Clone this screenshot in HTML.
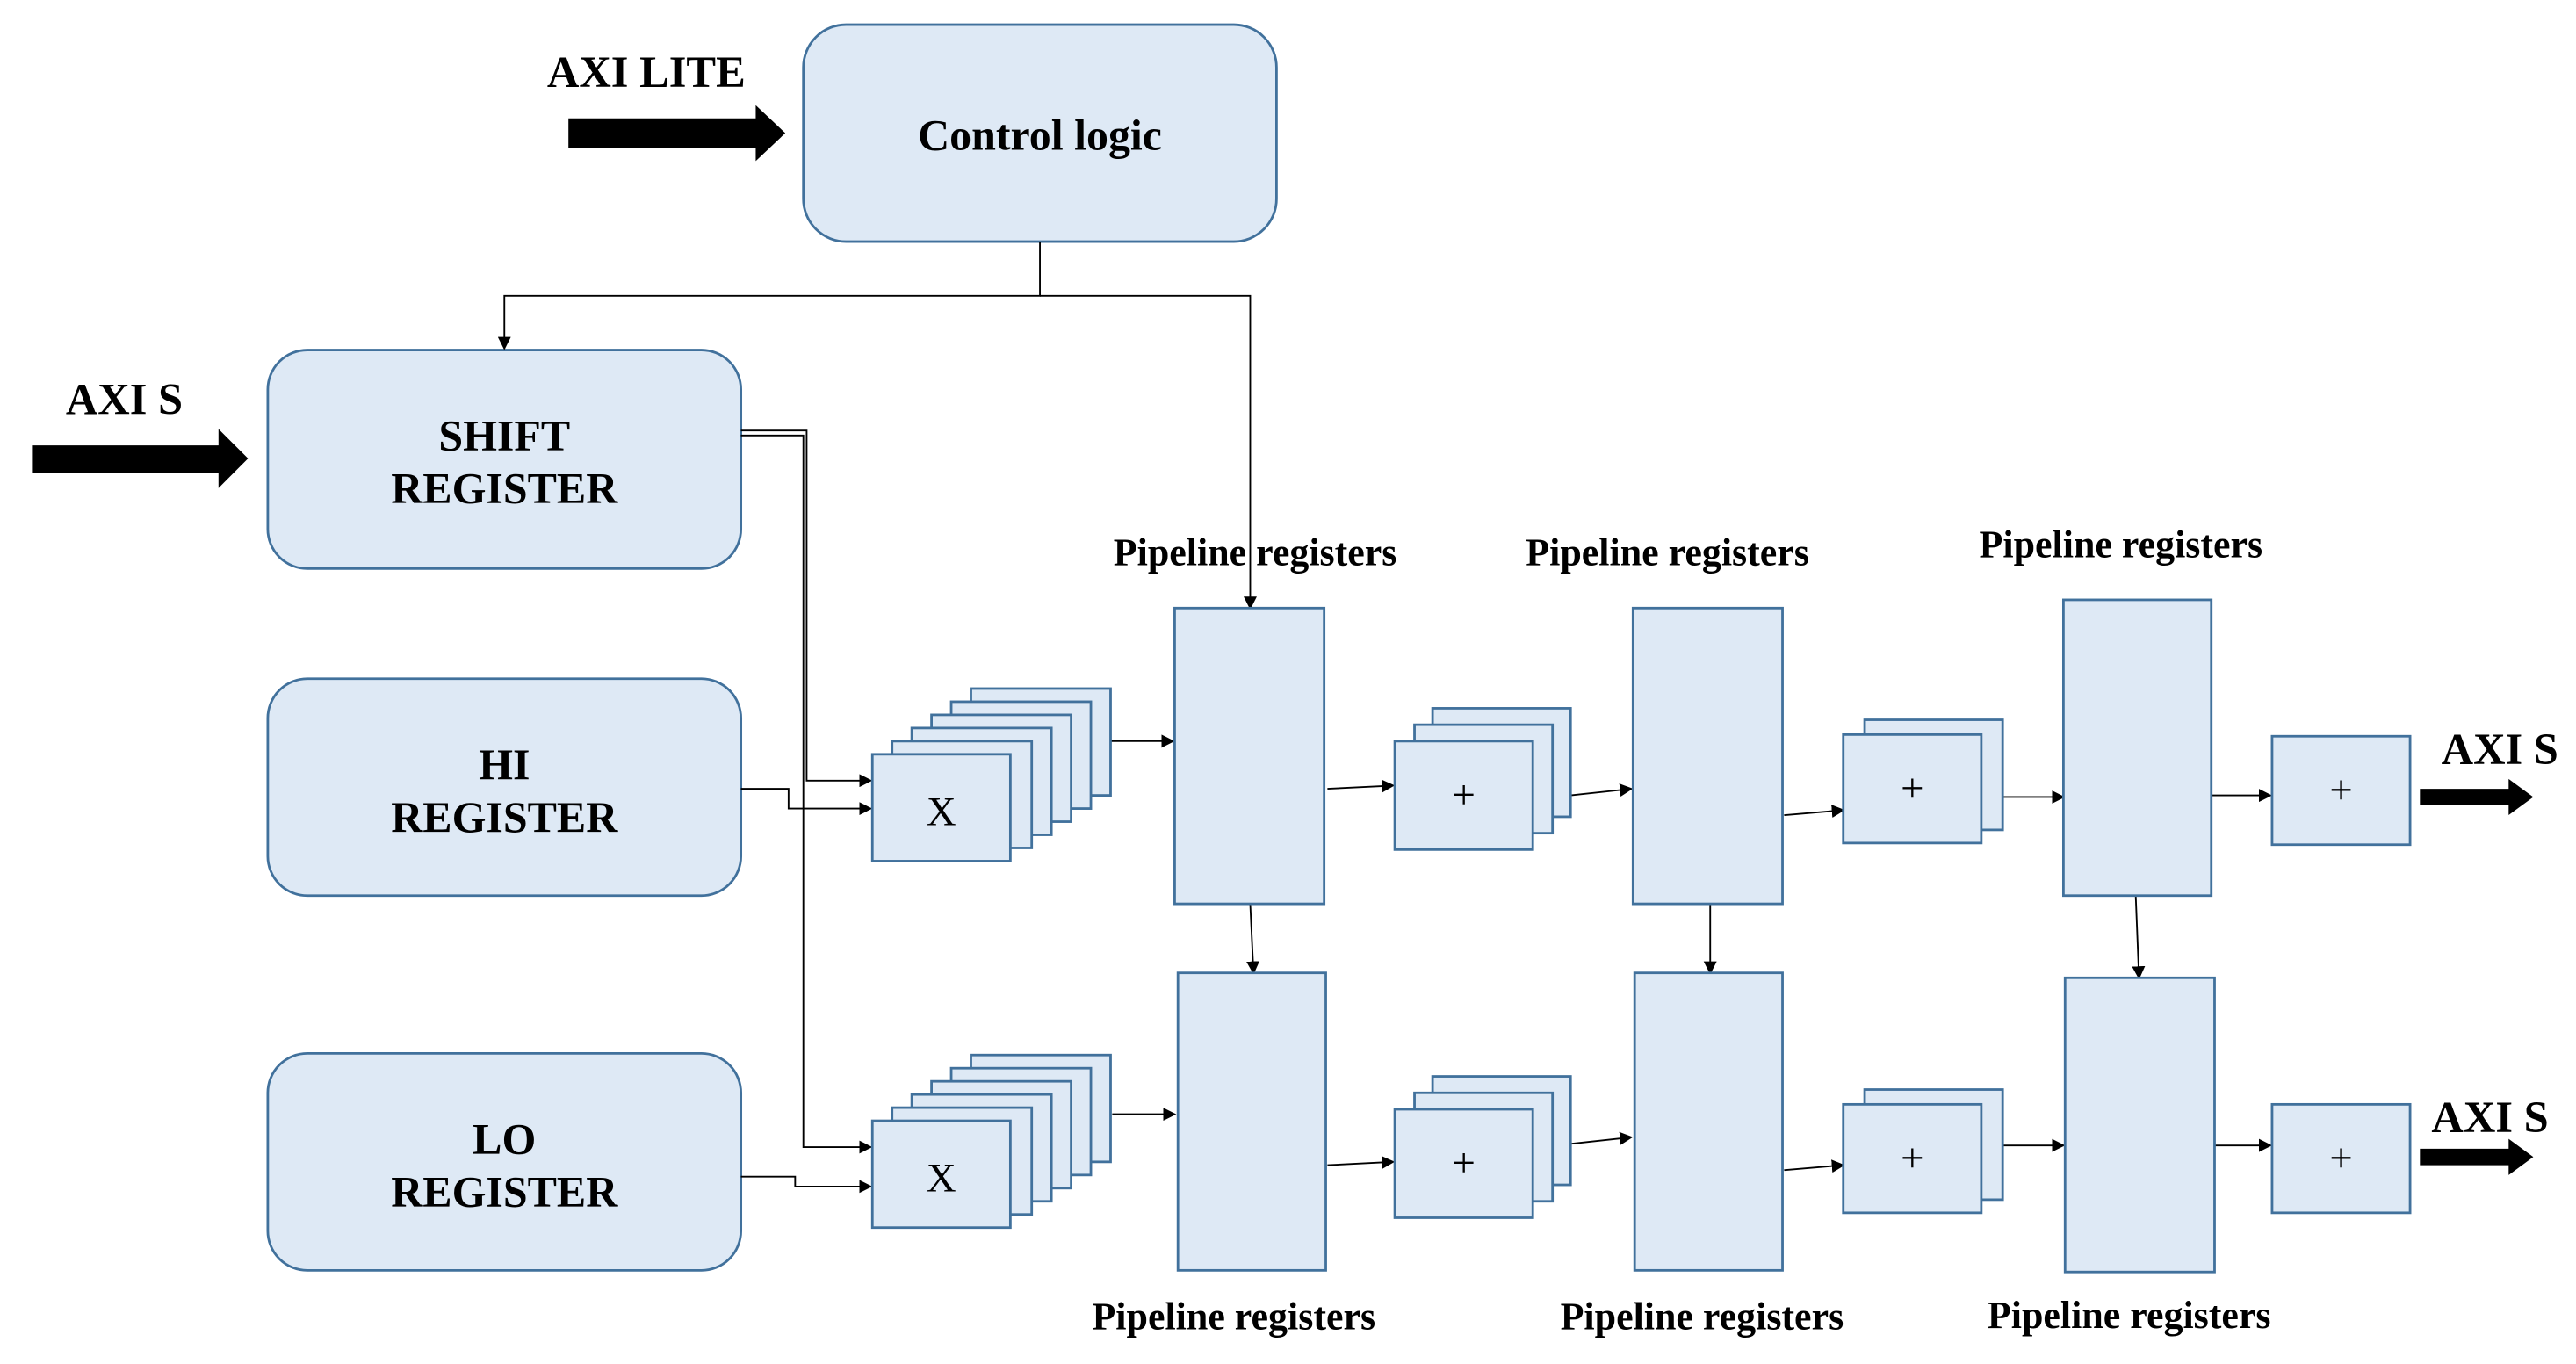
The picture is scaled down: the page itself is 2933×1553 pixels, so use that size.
<!DOCTYPE html>
<html><head><meta charset="utf-8"><style>html,body{margin:0;padding:0;background:#fff}svg{display:block}</style></head>
<body>
<svg width="2933" height="1553" viewBox="0 0 1568 830" preserveAspectRatio="none" xmlns="http://www.w3.org/2000/svg" font-family="Liberation Serif, serif">
<defs>
<marker id="a" markerWidth="8" markerHeight="8" refX="7" refY="4" orient="auto" markerUnits="userSpaceOnUse"><path d="M0,0 L8,4 L0,8 z" fill="#000"/></marker>
</defs>
<g fill="#dee9f5" stroke="#41719c" stroke-width="1.5">
<rect x="489" y="15" width="288" height="132" rx="26"/>
<rect x="163" y="213" width="288" height="133" rx="24"/>
<rect x="163" y="413" width="288" height="132" rx="24"/>
<rect x="163" y="641" width="288" height="132" rx="24"/>
</g>
<g font-weight="bold" text-anchor="middle" font-size="26.7">
<text x="633" y="91">Control logic</text>
<text x="307" y="274">SHIFT</text><text x="307" y="306">REGISTER</text>
<text x="307" y="474">HI</text><text x="307" y="506">REGISTER</text>
<text x="307" y="702">LO</text><text x="307" y="734">REGISTER</text>
</g>
<g font-weight="bold" font-size="27">
<text x="333" y="53">AXI LITE</text>
<text x="40" y="252">AXI S</text>
<text x="1486" y="465">AXI S</text>
<text x="1480" y="689">AXI S</text>
</g>
<g fill="#000">
<path d="M346,72 H460 V64 L478,81 L460,98 V90 H346 z"/>
<path d="M20,271 H133 V261 L151,279 L133,297 V288 H20 z"/>
<path d="M1473,480 H1527 V474 L1542,485 L1527,496 V490 H1473 z"/>
<path d="M1473,699 H1527 V693 L1542,704 L1527,715 V709 H1473 z"/>
</g>
<g fill="none" stroke="#000" stroke-width="1">
<path d="M633,147 V180 H307 V212" marker-end="url(#a)"/>
<path d="M633,180 H761 V370" marker-end="url(#a)"/>
<path d="M451,262 H491 V475 H530" marker-end="url(#a)"/>
<path d="M451,265 H489 V698 H530" marker-end="url(#a)"/>
<path d="M451,480 H480 V492 H530" marker-end="url(#a)"/>
<path d="M451,716 H484 V722 H530" marker-end="url(#a)"/>
<path d="M676,451 H714" marker-end="url(#a)"/>
<path d="M677,678 H715" marker-end="url(#a)"/>
<path d="M761,550 L763,592" marker-end="url(#a)"/>
<path d="M1041,550 V592" marker-end="url(#a)"/>
<path d="M1300,545 L1302,595" marker-end="url(#a)"/>
<path d="M808,480 L848,478" marker-end="url(#a)"/>
<path d="M808,709 L848,707" marker-end="url(#a)"/>
<path d="M956,484 L993,480" marker-end="url(#a)"/>
<path d="M956,696 L993,692" marker-end="url(#a)"/>
<path d="M1086,496 L1122,493" marker-end="url(#a)"/>
<path d="M1086,712 L1122,709" marker-end="url(#a)"/>
<path d="M1219,485 H1256" marker-end="url(#a)"/>
<path d="M1219,697 H1256" marker-end="url(#a)"/>
<path d="M1346,484 H1382" marker-end="url(#a)"/>
<path d="M1348,697 H1382" marker-end="url(#a)"/>
</g>
<g fill="#dee9f5" stroke="#41719c" stroke-width="1.5">
<rect x="591" y="419" width="85" height="65"/><rect x="579" y="427" width="85" height="65"/><rect x="567" y="435" width="85" height="65"/><rect x="555" y="443" width="85" height="65"/><rect x="543" y="451" width="85" height="65"/><rect x="531" y="459" width="84" height="65"/>
<rect x="591" y="642" width="85" height="65"/><rect x="579" y="650" width="85" height="65"/><rect x="567" y="658" width="85" height="65"/><rect x="555" y="666" width="85" height="65"/><rect x="543" y="674" width="85" height="65"/><rect x="531" y="682" width="84" height="65"/>
<rect x="715" y="370" width="91" height="180"/><rect x="717" y="592" width="90" height="181"/>
<rect x="994" y="370" width="91" height="180"/><rect x="995" y="592" width="90" height="181"/>
<rect x="1256" y="365" width="90" height="180"/><rect x="1257" y="595" width="91" height="179"/>
<rect x="872" y="431" width="84" height="66"/><rect x="861" y="441" width="84" height="66"/><rect x="849" y="451" width="84" height="66"/>
<rect x="872" y="655" width="84" height="66"/><rect x="861" y="665" width="84" height="66"/><rect x="849" y="675" width="84" height="66"/>
<rect x="1135" y="438" width="84" height="67"/><rect x="1122" y="447" width="84" height="66"/>
<rect x="1135" y="663" width="84" height="67"/><rect x="1122" y="672" width="84" height="66"/>
<rect x="1383" y="448" width="84" height="66"/><rect x="1383" y="672" width="84" height="66"/>
</g>
<g text-anchor="middle" font-size="25">
<text x="573" y="502">X</text><text x="573" y="725">X</text>
<text x="891" y="492">+</text><text x="891" y="716">+</text>
<text x="1164" y="488">+</text><text x="1164" y="713">+</text>
<text x="1425" y="489">+</text><text x="1425" y="713">+</text>
</g>
<g font-weight="bold" font-size="23.5" text-anchor="middle">
<text x="764" y="344">Pipeline registers</text>
<text x="1015" y="344">Pipeline registers</text>
<text x="1291" y="339">Pipeline registers</text>
<text x="751" y="809">Pipeline registers</text>
<text x="1036" y="809">Pipeline registers</text>
<text x="1296" y="808">Pipeline registers</text>
</g>
</svg>
</body></html>
